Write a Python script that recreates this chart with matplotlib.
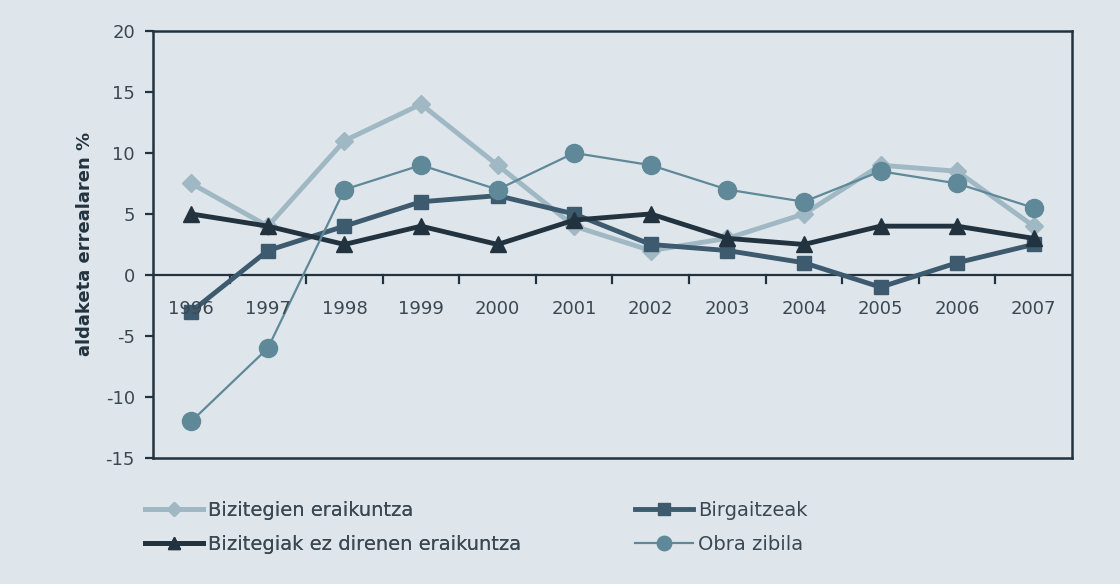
# -*- coding: utf-8 -*-
"""
Eraikuntzaren aldaketa erreala, 1996-2007 (%), lau azpisektoretan.
"""

import matplotlib
matplotlib.use("Agg")
import matplotlib.pyplot as plt


# ---------- Datuak ----------
years = ["1996", "1997", "1998", "1999", "2000", "2001",
         "2002", "2003", "2004", "2005", "2006", "2007"]

bizitegien = [7.5, 4, 11, 14, 9, 4, 2, 3, 5, 9, 8.5, 4]
birgaitzeak = [-3, 2, 4, 6, 6.5, 5, 2.5, 2, 1, -1, 1, 2.5]
ez_bizitegiak = [5, 4, 2.5, 4, 2.5, 4.5, 5, 3, 2.5, 4, 4, 3]
obra_zibila = [-12, -6, 7, 9, 7, 10, 9, 7, 6, 8.5, 7.5, 5.5]

y_ticks = [-15, -10, -5, 0, 5, 10, 15, 20]

BG = "#dee6ec"
DARK = "#22333f"
TEXT = "#3b4852"

plt.rcParams["font.family"] = ["DejaVu Sans"]

# ---------- Irudia ----------
fig = plt.figure(figsize=(11.2, 5.84), dpi=100, facecolor=BG)
ax = fig.add_axes([0.1366, 0.2158, 0.8205, 0.7312], facecolor=BG)

x = range(len(years))

l1, = ax.plot(x, bizitegien, color="#9fb8c3", linewidth=3.5,
              marker="D", markersize=9, label="Bizitegien eraikuntza")
l2, = ax.plot(x, birgaitzeak, color="#3d5a6e", linewidth=3.5,
              marker="s", markersize=10, label="Birgaitzeak")
l3, = ax.plot(x, ez_bizitegiak, color=DARK, linewidth=3.5,
              marker="^", markersize=11,
              label="Bizitegiak ez direnen eraikuntza")
l4, = ax.plot(x, obra_zibila, color="#5f8898", linewidth=1.6,
              marker="o", markersize=13, label="Obra zibila")

ax.set_xlim(-0.5, len(years) - 0.5)
ax.set_ylim(-15, 20)
ax.set_yticks(y_ticks)
ax.set_yticklabels([str(v) for v in y_ticks], fontsize=13, color=TEXT)

# zero lerroa eta urteen marka txikiak
ax.axhline(0, color=DARK, linewidth=1.6, zorder=1)
ax.set_xticks([])
for k in range(1, len(years)):
    ax.plot([k - 0.5, k - 0.5], [0, -0.65], color=DARK, linewidth=1.6,
            zorder=1)
for i, yr in enumerate(years):
    ax.text(i, -2.75, yr, ha="center", va="center", fontsize=13, color=TEXT)

for sp in ax.spines.values():
    sp.set_color(DARK)
    sp.set_linewidth(1.8)
ax.tick_params(axis="y", length=6, width=1.6, color=DARK, pad=7)

fig.text(85 / 1120, 1 - 244 / 584, "aldaketa errealaren %", rotation=90,
         ha="center", va="center", fontsize=13, fontweight="bold", color=DARK)

leg_kw = dict(frameon=False, loc="center left", fontsize=14,
              handlelength=3.0, handletextpad=0.25, labelspacing=0.8,
              borderpad=0, borderaxespad=0, labelcolor=TEXT, markerscale=0.8)
leg1 = fig.legend(handles=[l1, l3], bbox_to_anchor=(145 / 1120, 1 - 527.5 / 584),
                  **leg_kw)
fig.add_artist(leg1)
fig.legend(handles=[l2, l4], bbox_to_anchor=(635 / 1120, 1 - 527.5 / 584),
           **leg_kw)

plt.savefig("out.png", dpi=100, facecolor=BG)
plt.close()
